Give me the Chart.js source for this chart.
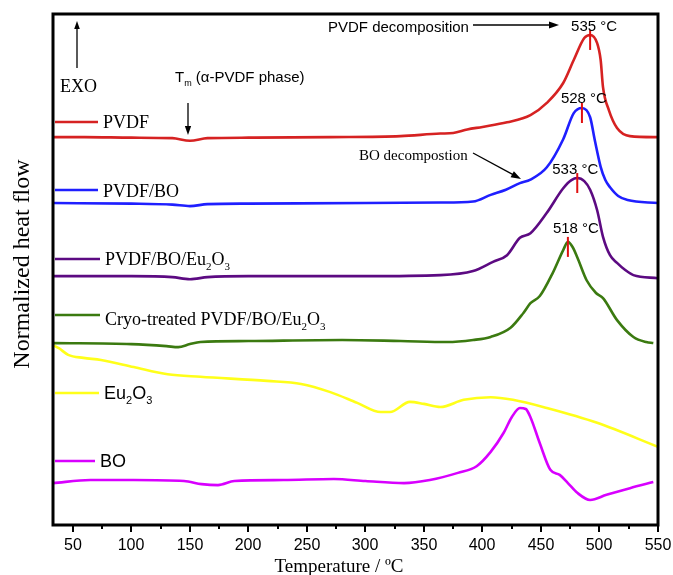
<!DOCTYPE html>
<html>
<head>
<meta charset="utf-8">
<script src="https://cdn.jsdelivr.net/npm/chart.js@4/dist/chart.umd.min.js"></script>
<style>
  html, body { margin: 0; padding: 0; background: #fff; }
  canvas { display: block; }
</style>
</head>
<body>
<canvas id="dsc" width="673" height="575"></canvas>
<script>
// DSC curves, temperature (°C) vs normalized heat flow (stacked, arbitrary units)
const xTicks = [50, 100, 150, 200, 250, 300, 350, 400, 450, 500, 550];

const pvdfT = [33, 60, 100, 135, 150, 165, 200, 270, 330, 364, 375, 387, 400, 421, 441, 455, 469, 478, 487, 492, 498, 501, 503, 508, 515, 526, 550];
const pvdfH = [75.9, 75.9, 75.8, 75.7, 75.2, 75.7, 75.8, 75.9, 76.1, 76.6, 76.7, 77.4, 77.9, 78.8, 80.2, 82.6, 86.5, 91.0, 95.3, 95.9, 94.3, 91.0, 85.7, 81.2, 77.7, 76.1, 75.9];

const pvdfBoT = [33, 100, 135, 150, 165, 200, 300, 364, 392, 407, 420, 432, 441, 455, 469, 478, 485, 492, 496, 501, 505, 509, 516, 524, 550];
const pvdfBoH = [63.0, 62.9, 62.7, 62.4, 62.8, 62.9, 63.0, 63.1, 63.3, 64.6, 65.6, 66.9, 67.6, 70.0, 75.5, 80.6, 81.6, 79.8, 75.3, 70.1, 67.5, 66.1, 64.4, 63.6, 63.0];

const pvdfBoEuT = [33, 100, 135, 150, 165, 200, 300, 364, 392, 409, 421, 432, 441, 455, 469, 476, 481, 487, 492, 498, 503, 509, 515, 522, 529, 550];
const pvdfBoEuH = [48.7, 48.7, 48.5, 48.1, 48.5, 48.7, 48.7, 48.9, 49.7, 51.5, 52.8, 56.2, 57.1, 61.1, 65.9, 67.5, 67.9, 67.3, 65.6, 61.6, 56.4, 52.8, 51.3, 49.9, 48.9, 48.3];

const cryoT = [33, 100, 130, 140, 150, 159, 200, 280, 330, 370, 392, 407, 424, 435, 441, 449, 460, 469, 473, 477, 481, 489, 497, 503, 515, 529, 540, 546];
const cryoH = [35.6, 35.4, 35.0, 34.8, 35.4, 35.8, 36.0, 36.2, 36.0, 35.8, 36.2, 36.8, 38.6, 41.5, 43.4, 44.8, 49.3, 53.8, 55.4, 54.4, 52.4, 47.9, 45.4, 44.4, 40.1, 36.8, 35.8, 35.6];

const euT = [33, 38, 46, 59, 74, 102, 131, 159, 216, 245, 270, 293, 313, 321, 338, 350, 364, 384, 407, 426, 455, 498, 550];
const euH = [35.2, 34.6, 33.3, 32.7, 32.3, 30.9, 29.5, 29.0, 28.2, 27.6, 26.0, 23.9, 22.1, 22.1, 24.1, 23.7, 23.1, 24.5, 25.0, 24.5, 22.9, 20.0, 15.3];

const boT = [33, 65, 102, 145, 160, 174, 188, 230, 273, 300, 333, 355, 379, 395, 407, 418, 425, 432, 437, 441, 449, 458, 466, 473, 481, 492, 506, 526, 546];
const boH = [8.2, 8.8, 8.8, 8.6, 8.0, 7.8, 8.6, 8.8, 9.0, 8.6, 8.2, 8.8, 10.2, 11.5, 14.3, 18.0, 21.1, 22.9, 22.7, 21.1, 16.0, 10.8, 9.8, 8.2, 6.3, 4.9, 5.9, 7.2, 8.4];

const seriesNames = ['PVDF', 'PVDF/BO', 'PVDF/BO/Eu2O3', 'Cryo-treated PVDF/BO/Eu2O3', 'Eu2O3', 'BO'];
const seriesColors = ['#d62222', '#1f1fff', '#5c0a82', '#3b7a10', '#ffff1a', '#d800ff'];
const seriesT = [pvdfT, pvdfBoT, pvdfBoEuT, cryoT, euT, boT];
const seriesH = [pvdfH, pvdfBoH, pvdfBoEuH, cryoH, euH, boH];

// peak temperature labels for the four PVDF curves
const peakLabels = ['535 °C', '528 °C', '533 °C', '518 °C'];

const SERIF = '"Liberation Serif", "Times New Roman", serif';
const SANS = '"Liberation Sans", Arial, sans-serif';

function zip(t, h) {
  return t.map((v, i) => ({ x: v, y: h[i] }));
}

// text with subscripts: parts = [[text, isSub], ...]
function drawRich(ctx, x, y, parts, size, family) {
  let cx = x;
  parts.forEach(([s, sub]) => {
    const fs = sub ? Math.round(size * 0.62) : size;
    ctx.font = fs + 'px ' + family;
    ctx.fillText(s, cx, sub ? y + size * 0.28 : y);
    cx += ctx.measureText(s).width;
  });
}

function arrow(ctx, x1, y1, x2, y2, head) {
  const a = Math.atan2(y2 - y1, x2 - x1);
  ctx.beginPath();
  ctx.moveTo(x1, y1);
  ctx.lineTo(x2 - Math.cos(a) * head * 0.8, y2 - Math.sin(a) * head * 0.8);
  ctx.stroke();
  ctx.beginPath();
  ctx.moveTo(x2, y2);
  ctx.lineTo(x2 - head * Math.cos(a) + head * 0.35 * Math.sin(a), y2 - head * Math.sin(a) - head * 0.35 * Math.cos(a));
  ctx.lineTo(x2 - head * Math.cos(a) - head * 0.35 * Math.sin(a), y2 - head * Math.sin(a) + head * 0.35 * Math.cos(a));
  ctx.closePath();
  ctx.fill();
}

const legendRows = [
  { y: 122, base: 128, x: 103, parts: [['PVDF']], font: SERIF },
  { y: 190, base: 197, x: 103, parts: [['PVDF/BO']], font: SERIF },
  { y: 259, base: 265, x: 105, parts: [['PVDF/BO/Eu'], ['2', true], ['O'], ['3', true]], font: SERIF },
  { y: 315, base: 325, x: 105, parts: [['Cryo-treated PVDF/BO/Eu'], ['2', true], ['O'], ['3', true]], font: SERIF },
  { y: 393, base: 399, x: 104, parts: [['Eu'], ['2', true], ['O'], ['3', true]], font: SANS },
  { y: 461, base: 467, x: 100, parts: [['BO']], font: SANS }
];

const peakLabelPos = [
  { dx: 4, base: 31 },
  { dx: 2, base: 103 },
  { dx: -2, base: 174 },
  { dx: 8, base: 233 }
];

const decorations = {
  id: 'decorations',
  afterDatasetsDraw(chart) {
    const { ctx, chartArea: a, scales: { x, y } } = chart;
    ctx.save();

    // frame
    ctx.strokeStyle = '#000';
    ctx.lineWidth = 3;
    ctx.strokeRect(a.left, a.top, a.right - a.left, a.bottom - a.top);

    // x ticks: majors with labels every 50, minors between
    ctx.lineWidth = 2;
    ctx.fillStyle = '#000';
    ctx.font = '16px ' + SANS;
    ctx.textAlign = 'center';
    ctx.textBaseline = 'middle';
    for (let v = 50; v <= 550; v += 25) {
      const px = Math.round(x.getPixelForValue(v));
      const major = xTicks.includes(v);
      ctx.beginPath();
      ctx.moveTo(px, a.bottom);
      ctx.lineTo(px, a.bottom + (major ? 7 : 4));
      ctx.stroke();
      if (major) ctx.fillText(String(v), px, a.bottom + 21);
    }
    ctx.textAlign = 'left';
    ctx.textBaseline = 'alphabetic';

    // legend samples
    legendRows.forEach((r, i) => {
      ctx.strokeStyle = seriesColors[i];
      ctx.lineWidth = 2.6;
      ctx.beginPath();
      ctx.moveTo(a.left + 2, r.y);
      ctx.lineTo(r.x - 5, r.y);
      ctx.stroke();
      ctx.fillStyle = '#000';
      drawRich(ctx, r.x, r.base, r.parts, 18, r.font);
    });

    // red peak markers and temperature labels
    for (let i = 0; i < 4; i++) {
      const h = seriesH[i];
      const k = h.indexOf(Math.max(...h));
      const px = x.getPixelForValue(seriesT[i][k]);
      const py = y.getPixelForValue(h[k]);
      ctx.strokeStyle = '#e01010';
      ctx.lineWidth = 2;
      ctx.beginPath();
      ctx.moveTo(px, py - 5);
      ctx.lineTo(px, py + 15);
      ctx.stroke();
      ctx.fillStyle = '#000';
      ctx.font = '15px ' + SANS;
      ctx.textAlign = 'center';
      ctx.fillText(peakLabels[i], px + peakLabelPos[i].dx, peakLabelPos[i].base);
      ctx.textAlign = 'left';
    }

    ctx.fillStyle = '#000';
    ctx.strokeStyle = '#000';
    ctx.lineWidth = 1.3;

    // EXO direction
    ctx.font = '18px ' + SERIF;
    ctx.fillText('EXO', 60, 92);
    arrow(ctx, 77, 68, 77, 21, 8);

    // melting point
    drawRich(ctx, 175, 82, [['T'], ['m', true], [' (\u03b1-PVDF phase)']], 15, SANS);
    arrow(ctx, 188, 103, 188, 135, 9);

    // decomposition notes
    ctx.font = '15px ' + SANS;
    ctx.fillText('PVDF decomposition', 328, 32);
    arrow(ctx, 473, 25, 559, 25, 10);
    ctx.font = '15px ' + SERIF;
    ctx.fillText('BO decompostion', 359, 160);
    arrow(ctx, 473, 153, 521, 179, 10);

    // axis titles
    ctx.font = '19px ' + SERIF;
    ctx.textAlign = 'center';
    ctx.fillText('Temperature / \u00baC', 339, 572);
    ctx.translate(23, 264);
    ctx.rotate(-Math.PI / 2);
    ctx.font = '24px ' + SERIF;
    ctx.textBaseline = 'middle';
    ctx.fillText('Normalized heat flow', 0, 0);

    ctx.restore();
  }
};

new Chart(document.getElementById('dsc'), {
  type: 'line',
  data: {
    datasets: seriesNames.map((name, i) => ({
      label: name,
      data: zip(seriesT[i], seriesH[i]),
      borderColor: seriesColors[i],
      borderWidth: 2.6,
      pointRadius: 0,
      cubicInterpolationMode: 'monotone',
      fill: false
    }))
  },
  options: {
    responsive: false,
    animation: false,
    devicePixelRatio: 1,
    layout: { padding: { left: 53, top: 14, right: 15, bottom: 50 } },
    plugins: {
      legend: { display: false },
      tooltip: { enabled: false }
    },
    scales: {
      x: { type: 'linear', display: false, min: 33, max: 550 },
      y: { display: false, min: 0, max: 100 }
    }
  },
  plugins: [decorations]
});
</script>
</body>
</html>
